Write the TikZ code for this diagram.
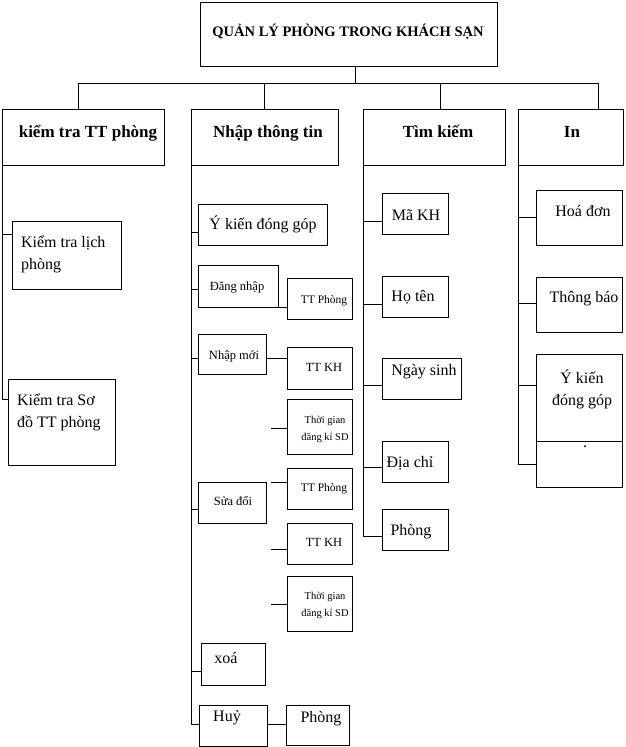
\documentclass[tikz,border=0pt]{standalone}
\usepackage{fontspec}
\setmainfont{Liberation Serif}
\begin{document}
\begin{tikzpicture}[x=1pt,y=-1pt]
\tikzset{ inner sep=0pt, outer sep=0pt, line width=0.9pt,
  box/.style={draw, anchor=north west},
  word/.style={font=\fontsize{16}{22}\selectfont, text height=1.5ex, text depth=0pt},
  words/.style={font=\fontsize{16}{22}\selectfont, align=left},
  head/.style={font=\fontsize{17}{20}\selectfont\bfseries, text height=1.5ex, text depth=0pt},
  small/.style={font=\fontsize{12.5}{15}\selectfont, text height=1.5ex, text depth=0pt},
  tiny/.style={font=\fontsize{10.5}{17}\selectfont, align=center},
}
\useasboundingbox (0,0) rectangle (625,747);
%\draw [lightgray, dashed](0,0) grid[step=50] (625,747);

% top
\node [box, minimum width=297pt, minimum height=64pt] (root) at (200,2) {};
\node [font=\fontsize{14.5}{17}\selectfont\bfseries, text height=1.5ex, text depth=0pt] (root-t) at (348,33) {QUẢN LÝ PHÒNG TRONG KHÁCH SẠN};

\node [box, minimum width=162pt, minimum height=56pt] (kt) at (2,109) {};
\node [box, minimum width=147pt, minimum height=56pt] (nt) at (191,109) {};
\node [box, minimum width=142pt, minimum height=56pt] (tk) at (363,109) {};
\node [box, minimum width=105pt, minimum height=56pt] (in) at (518,109) {};

\node [head] (kt-t) at (88,134) {kiểm tra TT phòng};
\node [head] (nt-t) at (268,134) {Nhập thông tin};
\node [head] (tk-t) at (438,134) {Tìm kiếm};
\node [head] (in-t) at (572,134) {In};

\coordinate (j)  at (355,83);
\coordinate (t1) at (78,83);
\coordinate (t2) at (264,83);
\coordinate (t3) at (440,83);
\coordinate (t4) at (598,83);

\draw (j |- root.south) -- (j);
\draw (t1) -- (t4);
\draw (t1) -- (t1 |- kt.north);
\draw (t2) -- (t2 |- nt.north);
\draw (t3) -- (t3 |- tk.north);
\draw (t4) -- (t4 |- in.north);

% kiem tra TT phong
\node [box, minimum width=109pt, minimum height=68pt] (lich) at (12,221) {};
\node [box, minimum width=107pt, minimum height=86pt] (sodo) at (8,379) {};
\node [words, anchor=west] (lich-t) at (21,254) {Kiểm tra lịch\\phòng};
\node [words, anchor=west] (sodo-t) at (17,412) {Kiểm tra Sơ\\đồ TT phòng};

\coordinate (a1) at (2,234);
\coordinate (a2) at (2,399);
\draw (kt.south west) -- (a2);
\draw (a1) -- (a1 -| lich.west);
\draw (a2) -- (a2 -| sodo.west);

% nhap thong tin
\node [box, minimum width=129pt, minimum height=41pt] (yk) at (198,204) {};
\node [box, minimum width=80pt, minimum height=42pt] (dn) at (198,265) {};
\node [box, minimum width=65pt, minimum height=41pt] (ttp1) at (287,278) {};
\node [box, minimum width=68pt, minimum height=40pt] (nm) at (198,334) {};
\node [box, minimum width=65pt, minimum height=42pt] (ttkh1) at (287,347) {};
\node [box, minimum width=65pt, minimum height=55pt] (tg1) at (287,399) {};
\node [box, minimum width=65pt, minimum height=41pt] (ttp2) at (287,468) {};
\node [box, minimum width=68pt, minimum height=41pt] (sd) at (198,482) {};
\node [box, minimum width=65pt, minimum height=41pt] (ttkh2) at (287,523) {};
\node [box, minimum width=65pt, minimum height=55pt] (tg2) at (287,576) {};
\node [box, minimum width=64pt, minimum height=42pt] (xoa) at (201,643) {};
\node [box, minimum width=68pt, minimum height=41pt] (huy) at (199,705) {};
\node [box, minimum width=63pt, minimum height=40pt] (ph1) at (286,705) {};

\node [word] (yk-t) at (263,226) {Ý kiến đóng góp};
\node [small] (dn-t) at (237,287) {Đăng nhập};
\node [small, font=\fontsize{11.5}{14}\selectfont] (ttp1-t) at (324,300) {TT Phòng};
\node [small] (nm-t) at (234,356) {Nhập mới};
\node [small] (ttkh1-t) at (324,368) {TT KH};
\node [tiny] (tg1-t) at (325,429) {Thời gian\\đăng kí SD};
\node [small, font=\fontsize{11.5}{14}\selectfont] (ttp2-t) at (324,488) {TT Phòng};
\node [small] (sd-t) at (233,502) {Sửa đổi};
\node [small] (ttkh2-t) at (324,543) {TT KH};
\node [tiny] (tg2-t) at (325,605) {Thời gian\\đăng kí SD};
\node [word] (xoa-t) at (226,660) {xoá};
\node [word] (huy-t) at (227,718) {Huỷ};
\node [word] (ph1-t) at (321,719) {Phòng};

\coordinate (b1) at (191,232);
\coordinate (b2) at (191,289);
\coordinate (b3) at (191,358);
\coordinate (b4) at (191,509);
\coordinate (b5) at (191,671);
\coordinate (b6) at (191,724);
\draw (nt.south west) -- (b6);
\draw (b1) -- (b1 -| yk.west);
\draw (b2) -- (b2 -| dn.west);
\draw (b3) -- (b3 -| nm.west);
\draw (b4) -- (b4 -| sd.west);
\draw (b5) -- (b5 -| xoa.west);
\draw (b6) -- (b6 -| huy.west);

\draw (dn.south east) -- (dn.south east -| ttp1.west);
\draw (b3 -| nm.east) -- (b3 -| ttkh1.west);
\draw (b6 -| huy.east) -- (b6 -| ph1.west);

\coordinate (c1) at (271,428);
\coordinate (c2) at (271,482);
\coordinate (c3) at (271,549);
\coordinate (c4) at (271,604);
\draw (c1) -- (c1 -| tg1.west);
\draw (c2) -- (c2 -| ttp2.west);
\draw (c3) -- (c3 -| ttkh2.west);
\draw (c4) -- (c4 -| tg2.west);

% tim kiem
\node [box, minimum width=66pt, minimum height=41pt] (mkh) at (382,193) {};
\node [box, minimum width=66pt, minimum height=41pt] (ht) at (382,276) {};
\node [box, minimum width=79pt, minimum height=41pt] (ns) at (382,358) {};
\node [box, minimum width=66pt, minimum height=41pt] (dc) at (382,441) {};
\node [box, minimum width=66pt, minimum height=41pt] (ph2) at (382,509) {};

\node [word] (mkh-t) at (416,217) {Mã KH};
\node [word] (ht-t) at (413,298) {Họ tên};
\node [word] (ns-t) at (424,372) {Ngày sinh};
\node [word] (dc-t) at (410,464) {Địa chỉ};
\node [word] (ph2-t) at (411,532) {Phòng};

\coordinate (d1) at (363,221);
\coordinate (d2) at (363,304);
\coordinate (d3) at (363,385);
\coordinate (d4) at (363,467);
\coordinate (d5) at (363,536);
\draw (tk.south west) -- (d5);
\draw (d1) -- (d1 -| mkh.west);
\draw (d2) -- (d2 -| ht.west);
\draw (d3) -- (d3 -| ns.west);
\draw (d4) -- (d4 -| dc.west);
\draw (d5) -- (d5 -| ph2.west);

% in
\node [box, minimum width=86pt, minimum height=55pt] (hd) at (536,190) {};
\node [box, minimum width=86pt, minimum height=55pt] (tb) at (536,277) {};
\node [box, minimum width=86pt, minimum height=87pt] (yk2) at (536,354) {};
\node [box, minimum width=86pt, minimum height=46pt] (emp) at (536,441) {};

\node [word] (hd-t) at (583,213) {Hoá đơn};
\node [word] (tb-t) at (584,299) {Thông báo};
\node [words, align=center] (yk2-t) at (582,389) {Ý kiến\\đóng góp};
\node [word] (emp-t) at (585,444) {.};

\coordinate (e1) at (518,217);
\coordinate (e2) at (518,303);
\coordinate (e3) at (518,385);
\coordinate (e4) at (518,464);
\draw (in.south west) -- (e4);
\draw (e1) -- (e1 -| hd.west);
\draw (e2) -- (e2 -| tb.west);
\draw (e3) -- (e3 -| yk2.west);
\draw (e4) -- (e4 -| emp.west);

\end{tikzpicture}
\end{document}
